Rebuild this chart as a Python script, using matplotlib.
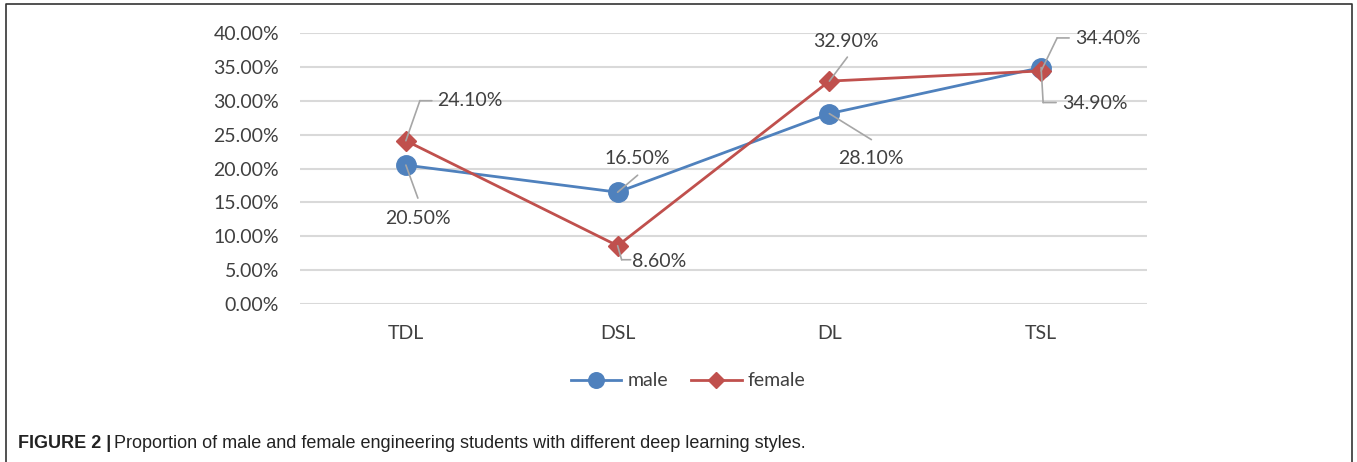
import matplotlib
matplotlib.use("Agg")
import matplotlib.pyplot as plt
from matplotlib.transforms import ScaledTranslation
from matplotlib.lines import Line2D

categories = ["TDL", "DSL", "DL", "TSL"]
male = [20.5, 16.5, 28.1, 34.9]
female = [24.1, 8.6, 32.9, 34.4]
yticks = [0, 5, 10, 15, 20, 25, 30, 35, 40]

W, H = 1357, 462
fig = plt.figure(figsize=(W / 100, H / 100), dpi=100)
FONT = "Lato"
FS = 14
TXT = "#404040"
BLUE = "#4F81BD"
RED = "#C0504D"

ax = fig.add_axes([300 / W, 1 - 304 / H, 847 / W, 271 / H])
x = list(range(len(categories)))
ax.plot(x, male, color=BLUE, lw=2, marker="o", ms=14, zorder=3, label="male")
ax.plot(x, female, color=RED, lw=2, marker="D", ms=10, zorder=4, label="female")
ax.set_xlim(-0.5, 3.5)
ax.set_ylim(0, 40)
ax.set_yticks(yticks)
ax.set_yticklabels([f"{v:.2f}%" for v in yticks], fontsize=FS, family=FONT, color=TXT)
ax.set_xticks(x)
ax.set_xticklabels(categories, fontsize=FS, family=FONT, color=TXT)
ax.tick_params(axis="both", length=0)
ax.tick_params(axis="y", pad=15)
ax.tick_params(axis="x", pad=15)
ax.grid(axis="y", color="#D9D9D9", lw=1.5)
ax.set_axisbelow(True)
for s in ax.spines.values():
    s.set_visible(False)

def px(dx, dy):
    return ax.transData + ScaledTranslation(dx / 100, dy / 100, fig.dpi_scale_trans)

def label(i, v, pts, text, tdx, tdy, ha):
    for k in range(len(pts) - 1):
        a, b = pts[k], pts[k + 1]
        ax.annotate("", xy=(i, v), xycoords=px(b[0], b[1]),
                    xytext=(i, v), textcoords=px(a[0], a[1]),
                    arrowprops=dict(arrowstyle="-", color="#A6A6A6", lw=1.2,
                                    shrinkA=0, shrinkB=0), zorder=5)
    ax.text(i, v, text, transform=px(tdx, tdy), ha=ha, va="center",
            fontsize=FS, family=FONT, color=TXT, zorder=6)

# (pixel offsets, y up)
label(0, female[0], [(0, 0), (14, 40), (26, 40)], "24.10%", 31, 40, "left")
label(0, male[0], [(0, 0), (12, -33)], "20.50%", 12, -53, "center")
label(1, male[1], [(0, 0), (20, 17)], "16.50%", 20, 34, "center")
label(1, female[1], [(0, 0), (4, -14), (13, -14)], "8.60%", 14, -16, "left")
label(2, female[2], [(0, 0), (18, 24)], "32.90%", 17, 40, "center")
label(2, male[2], [(0, 0), (42, -26)], "28.10%", 42, -45, "center")
label(3, female[3], [(0, 0), (16, 33), (28, 33)], "34.40%", 34, 32, "left")
label(3, male[3], [(0, 0), (2, -35), (15, -35)], "34.90%", 21, -36, "left")

h, l = ax.get_legend_handles_labels()
fig.legend(h, l, loc="center", bbox_to_anchor=(688 / W, 1 - 381 / H), ncol=2,
           frameon=False, prop={"family": FONT, "size": FS}, labelcolor=TXT,
           handlelength=2.6, columnspacing=1.2, handletextpad=0.3, markerscale=0.8)

CAPF = "Liberation Sans"
t1 = fig.text(18 / W, 1 - 444 / H, "FIGURE 2 |", fontsize=13, family=CAPF,
              weight="bold", color="#222222", va="center", ha="left")
fig.canvas.draw()
bb = t1.get_window_extent()
fig.text((bb.x1 + 3) / W, 1 - 444 / H,
         "Proportion of male and female engineering students with different deep learning styles.",
         fontsize=13, family=CAPF, color="#222222", va="center", ha="left")

border = Line2D([6 / W, 6 / W, 1352 / W, 1352 / W],
                [0, 1 - 4 / H, 1 - 4 / H, 0], transform=fig.transFigure,
                color="#333333", lw=1.2)
fig.add_artist(border)

fig.savefig("out.png", dpi=100, facecolor="white")
